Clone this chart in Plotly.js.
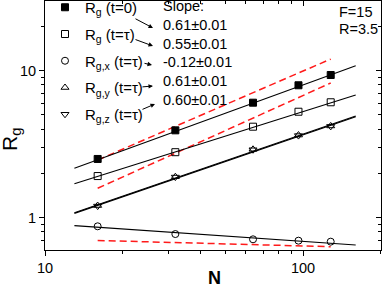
<!DOCTYPE html>
<html>
<head>
<meta charset="utf-8">
<script src="https://cdn.plot.ly/plotly-3.0.1.min.js"></script>
<style>html,body{margin:0;padding:0;background:#fff;}#chart{width:382px;height:284px;}</style>
</head>
<body>
<div id="chart"></div>
<script>
// ---- data ----
var N = [16, 32, 64, 96, 128];
var rg0 = [2.51, 3.93, 6.06, 7.96, 9.35];
var rgTau = [1.92, 2.79, 4.16, 5.26, 6.10];
var rgx = [0.874, 0.774, 0.713, 0.698, 0.687];
var rgy = [1.21, 1.90, 2.92, 3.65, 4.21];
var rgz = [1.20, 1.89, 2.90, 3.62, 4.18];

var fitN = [13, 160];
var fit0 = [2.17, 10.8];
var fitTau = [1.70, 6.83];
var fitY = [1.08, 4.92];
var fitZ = [1.07, 4.86];
var fitX = [0.883, 0.652];

var refN = [16, 128];
var ref1 = [2.47, 12.0];
var ref2 = [1.585, 8.25];
var ref3 = [0.70, 0.635];

var legendNames = ['R<sub>g</sub> (t=0)', 'R<sub>g</sub> (t=τ)', 'R<sub>g,x</sub> (t=τ)', 'R<sub>g,y</sub> (t=τ)', 'R<sub>g,z</sub> (t=τ)'];
var slopeLabels = ['Slope:', '0.61±0.01', '0.55±0.01', '-0.12±0.01', '0.61±0.01', '0.60±0.01'];
var paramLabels = ['F=15', 'R=3.5'];
var xTickVals = [10, 100];
var xMinor = [20, 30, 40, 50, 60, 70, 80, 90, 200];
var yTickVals = [1, 10];
var yMinor = [0.7, 0.8, 0.9, 2, 3, 4, 5, 6, 7, 8, 9, 20];

var FONT = 'Liberation Sans, Arial, sans-serif';
var W = 382, H = 284, ML = 45, MR = 1, MT = 1, MB = 34;
var PW = W - ML - MR, PH = H - MT - MB;
function px(x) { return (x - ML) / PW; }
function py(y) { return (H - MB - y) / PH; }

var traces = [];
function fitLine(yv, color, dash, w) {
  traces.push({x: dash ? refN : fitN, y: yv, mode: 'lines', showlegend: false, hoverinfo: 'skip',
    line: {color: color, width: w, dash: dash || 'solid'}});
}
fitLine(ref1, '#ff1a1a', '7px,4px', 1.5);
fitLine(ref2, '#ff1a1a', '7px,4px', 1.5);
fitLine(ref3, '#ff1a1a', '7px,4px', 1.5);
fitLine(fit0, '#000', null, 1.1);
fitLine(fitTau, '#000', null, 1.1);
fitLine(fitX, '#000', null, 1.1);
fitLine(fitY, '#000', null, 1.1);
fitLine(fitZ, '#000', null, 1.1);

var series = [rg0, rgTau, rgx, rgy, rgz];
var symbols = ['square', 'square-open', 'circle-open', 'triangle-up-open', 'triangle-down-open'];
for (var i = 0; i < series.length; i++) {
  traces.push({x: N, y: series[i], mode: 'markers', name: legendNames[i], legendgroup: 'g' + i,
    hoverinfo: 'skip', marker: {symbol: symbols[i], size: 7, color: '#000', line: {color: '#000', width: 1}}});
}
// dummy trace for the mirrored top/right axes
traces.push({x: [], y: [], xaxis: 'x2', yaxis: 'y2', showlegend: false, hoverinfo: 'skip', mode: 'markers'});

var annotations = [];
var slopeY = [6, 25, 44, 62, 81, 100];
for (var k = 0; k < slopeLabels.length; k++) {
  annotations.push({xref: 'paper', yref: 'paper', x: px(161), y: py(slopeY[k]), xanchor: 'left', yanchor: 'middle',
    text: slopeLabels[k], showarrow: false, font: {family: FONT, size: 14.5, color: '#000'}});
}
var paramY = [12, 29];
for (var k = 0; k < paramLabels.length; k++) {
  annotations.push({xref: 'paper', yref: 'paper', x: px(337), y: py(paramY[k]), xanchor: 'left', yanchor: 'middle',
    text: paramLabels[k], showarrow: false, font: {family: FONT, size: 14.5, color: '#000'}});
}
// arrows: head (hx,hy), tail (tx,ty) in pixels
var arrows = [[153, 28, 134, 18], [153, 46, 134, 39], [152, 65, 143, 63], [153, 86, 141, 87], [155, 104, 141, 110]];
arrows.forEach(function (a) {
  annotations.push({xref: 'paper', yref: 'paper', x: px(a[0]), y: py(a[1]), ax: a[2] - a[0], ay: a[3] - a[1],
    text: '', showarrow: true, arrowhead: 2, arrowsize: 0.9, arrowwidth: 1, arrowcolor: '#000'});
});
// axis titles
annotations.push({xref: 'paper', yref: 'paper', x: px(214), y: py(278), xanchor: 'center', yanchor: 'middle',
  text: '<b>N</b>', showarrow: false, font: {family: FONT, size: 18, color: '#000'}});
annotations.push({xref: 'paper', yref: 'paper', x: px(11), y: py(140), xanchor: 'center', yanchor: 'middle',
  text: 'R<sub>g</sub>', textangle: -90, showarrow: false, font: {family: FONT, size: 21, color: '#000'}});

var axBase = {type: 'log', showgrid: false, zeroline: false, showline: true, linecolor: '#000', linewidth: 1,
  tickcolor: '#000', tickwidth: 1, tickfont: {family: FONT, size: 14.5, color: '#000'}};
function ax(extra) { return Object.assign({}, axBase, extra); }

var layout = {
  width: W, height: H,
  margin: {l: ML, r: MR, t: MT, b: MB, pad: 0, autoexpand: false},
  paper_bgcolor: '#fff', plot_bgcolor: '#fff',
  showlegend: true,
  legend: {x: 0, y: py(-9), xanchor: 'left', yanchor: 'top',
    bgcolor: 'rgba(0,0,0,0)', borderwidth: 0,
    font: {family: FONT, size: 15, color: '#000'}, tracegroupgap: 4.25, itemclick: false},
  xaxis: ax({range: [1, Math.log10(200.5)], ticks: 'outside', ticklen: 5, tickvals: xTickVals, ticktext: ['10', '100'],
    minor: {tickvals: xMinor, ticks: 'outside', ticklen: 3, tickcolor: '#000', showgrid: false}}),
  yaxis: ax({range: [Math.log10(0.603), Math.log10(29.8)], ticks: 'outside', ticklen: 5, tickvals: yTickVals, ticktext: ['1', '10'],
    minor: {tickvals: yMinor, ticks: 'outside', ticklen: 3, tickcolor: '#000', showgrid: false}}),
  xaxis2: ax({overlaying: 'x', anchor: 'y2', side: 'top', range: [1, Math.log10(200.5)], ticks: 'inside', ticklen: 5,
    tickvals: xTickVals, showticklabels: false,
    minor: {tickvals: xMinor, ticks: 'inside', ticklen: 3, tickcolor: '#000', showgrid: false}}),
  yaxis2: ax({overlaying: 'y', anchor: 'x2', side: 'right', range: [Math.log10(0.603), Math.log10(29.8)], ticks: 'inside', ticklen: 5,
    tickvals: yTickVals, showticklabels: false,
    minor: {tickvals: yMinor, ticks: 'inside', ticklen: 3, tickcolor: '#000', showgrid: false}}),
  annotations: annotations
};

Plotly.newPlot('chart', traces, layout, {displayModeBar: false, staticPlot: true});
</script>
</body>
</html>
